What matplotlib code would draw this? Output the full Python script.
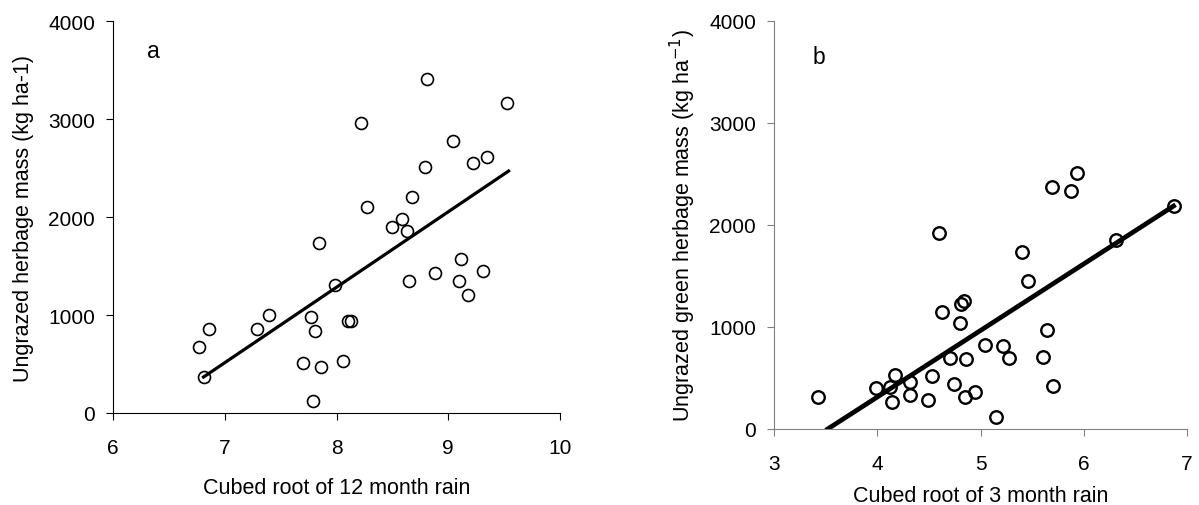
import matplotlib
matplotlib.use("Agg")
import matplotlib.pyplot as plt

plt.rcParams['font.family'] = ['Liberation Sans', 'DejaVu Sans']

# panel a: cubed root of 12 month rain vs ungrazed herbage mass
rain12 = [6.77, 6.81, 6.86, 7.29, 7.40, 7.70, 7.77, 7.81, 7.79, 7.84, 7.86,
          7.99, 8.06, 8.10, 8.13, 8.22, 8.27, 8.50, 8.59, 8.63, 8.65, 8.68,
          8.79, 8.81, 8.88, 9.04, 9.10, 9.11, 9.18, 9.22, 9.31, 9.35, 9.53]
mass_a = [673, 367, 860, 860, 1003, 514, 980, 837, 122, 1735, 469,
          1310, 531, 942, 942, 2959, 2102, 1898, 1980, 1861, 1347, 2204,
          2510, 3408, 1432, 2776, 1347, 1575, 1207, 2551, 1449, 2612, 3163]
line_a_x = [6.81, 9.54]
line_a_y = [367, 2469]

# panel b: cubed root of 3 month rain vs ungrazed green herbage mass
rain3 = [3.43, 3.99, 4.12, 4.14, 4.17, 4.32, 4.32, 4.49, 4.53, 4.60, 4.63,
         4.70, 4.74, 4.80, 4.81, 4.84, 4.85, 4.86, 4.95, 5.04, 5.15, 5.22,
         5.28, 5.40, 5.46, 5.61, 5.64, 5.69, 5.70, 5.88, 5.93, 6.31, 6.87]
mass_b = [317, 399, 408, 261, 533, 333, 458, 284, 523, 1922, 1150,
          693, 441, 1042, 1225, 1258, 317, 686, 366, 827, 114, 817,
          696, 1739, 1451, 703, 967, 2373, 425, 2330, 2510, 1853, 2186]
line_b_x = [3.52, 6.87]
line_b_y = [0, 2186]

W, H = 1199, 506
fig = plt.figure(figsize=(W / 100, H / 100), dpi=100)

def px_axes(left, right, top, bottom):
    return fig.add_axes([left / W, (H - bottom) / H, (right - left) / W, (bottom - top) / H])

fs_tick = 15
fs_lab = 15.5

# ---- panel a
ax = px_axes(113, 560, 22, 414)
ax.plot(rain12, mass_a, 'o', ms=8.6, mfc='none', mec='black', mew=1.2, clip_on=False)
ax.plot(line_a_x, line_a_y, '-', color='black', lw=2.3)
ax.set_xlim(6, 10)
ax.set_ylim(0, 4000)
ax.set_xticks([6, 7, 8, 9, 10])
ax.set_yticks([0, 1000, 2000, 3000, 4000])
ax.spines['top'].set_visible(False)
ax.spines['right'].set_visible(False)
ax.tick_params(direction='out', length=5, labelsize=fs_tick)
ax.tick_params(axis='x', pad=13)
ax.tick_params(axis='y', pad=8)
ax.set_xlabel('Cubed root of 12 month rain', fontsize=fs_lab, va='center')
ax.set_ylabel('Ungrazed herbage mass (kg ha-1)', fontsize=fs_lab, va='center')
ax.xaxis.set_label_coords(0.5, -0.189)
ax.yaxis.set_label_coords(-0.201, 0.5)
ax.text(6.3, 3700, 'a', fontsize=fs_lab + 1, va='center')

# ---- panel b
bx = px_axes(774, 1187, 22, 430)
bx.plot(rain3, mass_b, 'o', ms=9, mfc='none', mec='black', mew=1.7, clip_on=False)
bx.plot(line_b_x, line_b_y, '-', color='black', lw=3.4)
bx.set_xlim(3, 7)
bx.set_ylim(0, 4000)
bx.set_xticks([3, 4, 5, 6, 7])
bx.set_yticks([0, 1000, 2000, 3000, 4000])
bx.spines['top'].set_visible(False)
bx.spines['right'].set_visible(False)
for s in ['left', 'bottom']:
    bx.spines[s].set_color('#808080')
bx.tick_params(direction='out', length=5, labelsize=fs_tick, color='#808080')
bx.tick_params(axis='x', pad=13)
bx.tick_params(axis='y', pad=8)
bx.set_xlabel('Cubed root of 3 month rain', fontsize=fs_lab, va='center')
bx.set_ylabel('Ungrazed green herbage mass (kg ha$^{-1}$)', fontsize=fs_lab, va='center')
bx.xaxis.set_label_coords(0.5, -0.162)
bx.yaxis.set_label_coords(-0.22, 0.5)
bx.text(3.37, 3650, 'b', fontsize=fs_lab + 1, va='center')

fig.savefig('out.png', dpi=100)
